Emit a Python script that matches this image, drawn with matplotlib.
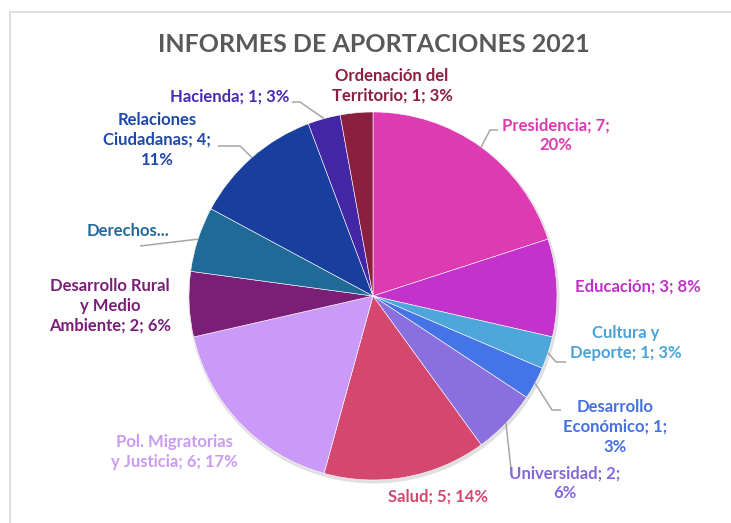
import numpy as np
import matplotlib.pyplot as plt
from matplotlib.patches import Rectangle

# data
categories = ["Presidencia", "Educación", "Cultura y Deporte", "Desarrollo Económico",
              "Universidad", "Salud", "Pol. Migratorias y Justicia",
              "Desarrollo Rural y Medio Ambiente", "Derechos Sociales",
              "Relaciones Ciudadanas", "Hacienda", "Ordenación del Territorio"]
values = [7, 3, 1, 1, 2, 5, 6, 2, 2, 4, 1, 1]
label_texts = ["Presidencia; 7;\n20%", "Educación; 3; 8%", "Cultura y\nDeporte; 1; 3%",
               "Desarrollo\nEconómico; 1;\n3%", "Universidad; 2;\n6%", "Salud; 5; 14%",
               "Pol. Migratorias\ny Justicia; 6; 17%", "Desarrollo Rural\ny Medio\nAmbiente; 2; 6%",
               "Derechos...", "Relaciones\nCiudadanas; 4;\n11%", "Hacienda; 1; 3%",
               "Ordenación del\nTerritorio; 1; 3%"]
colors = ["#DE3AB2", "#C332CA", "#4EA6DA", "#4574E6", "#8A70DE", "#D4476F",
          "#CB9AF8", "#7A1E78", "#1F6A96", "#193F9E", "#4326A6", "#8A1F40"]
text_colors = ["#DC3AB0", "#C032C6", "#4AA3D8", "#4470E2", "#8468DA", "#D4476F",
               "#C99CF2", "#7A1E78", "#22699A", "#1F48A8", "#4A2AAE", "#8A1F40"]

# layout (pixel positions, y from top)
W, H = 731, 523
cx, cy, R = 373, 296, 184
label_pos = [(556, 135), (638, 287), (626, 343), (615, 427), (565, 483), (438, 497),
             (174, 452), (110, 306), (128, 231), (157, 140), (289, 97), (392, 86)]
label_ha = ['center'] * 10 + ['right', 'center']
# elbow / end of leader lines
leaders = {0: [(490, 130), (498, 130)],
           2: [(556, 362), (566, 362)],
           3: [(552, 410), (561, 410)],
           4: [(512, 478)],
           8: [(140, 246)],
           9: [(240, 146), (218, 146)],
           10: [(300, 102), (292, 102)]}

plt.rcParams['font.family'] = ['Lato', 'DejaVu Sans']

fig = plt.figure(figsize=(W / 100, H / 100), dpi=100)
ax = fig.add_axes([0, 0, 1, 1])


def px(x, y):
    return x, H - y


# soft shadow
ax.add_patch(plt.Circle(px(cx + 1, cy + 2), R + 1.5, color="#000000", alpha=0.12, lw=0))

wedges, _ = ax.pie(values, colors=colors, startangle=90, counterclock=False,
                   center=px(cx, cy), radius=R, frame=True,
                   wedgeprops=dict(edgecolor="white", linewidth=0.4))
ax.set_xlim(0, W)
ax.set_ylim(0, H)
ax.axis('off')

# chart border
ax.add_patch(Rectangle(px(10, 540), 740, 528, fill=False, edgecolor="#D9D9D9", lw=1.2))

total = sum(values)
start = 90.0
for i, v in enumerate(values):
    ang = start - v / total * 180
    start -= v / total * 360
    if i in leaders:
        ex = cx + R * np.cos(np.radians(ang))
        ey = cy - R * np.sin(np.radians(ang))
        pts = [(ex, ey)] + leaders[i]
        xs = [p[0] for p in pts]
        ys = [H - p[1] for p in pts]
        ax.plot(xs, ys, color="#A6A6A6", lw=1.1, solid_capstyle='butt')

for i, txt in enumerate(label_texts):
    x, y = label_pos[i]
    ax.text(*px(x, y), txt, ha=label_ha[i], va='center', color=text_colors[i],
            fontsize=12, fontweight='bold', linespacing=1.3,
            multialignment='center')

ax.text(*px(374, 45), "INFORMES DE APORTACIONES 2021", ha='center', va='center',
        color="#595959", fontsize=18, fontweight='bold')

fig.savefig("out.png", dpi=100)
